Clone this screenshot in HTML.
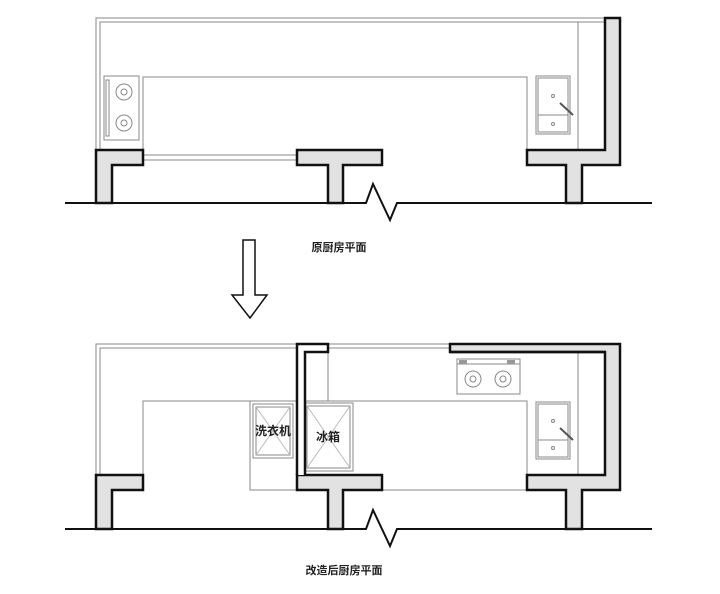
<!DOCTYPE html>
<html><head><meta charset="utf-8"><style>
html,body{margin:0;padding:0;background:#fff;}
svg{display:block}
text{font-family:"Liberation Sans","Noto Sans CJK SC",sans-serif;font-weight:bold;fill:#222}
</style></head><body>
<svg width="720" height="594" viewBox="0 0 720 594" xmlns="http://www.w3.org/2000/svg">
<g fill="none" stroke="#888" stroke-width="1">
<path d="M96 150 V18 H605 M100 150 V22 H605"/>
<path d="M143 150 V77 H527 V150"/>
<path d="M578 22 V150"/>
<rect x="104" y="76" width="35" height="64"/>
<rect x="106" y="80" width="3" height="56"/>
<circle cx="124" cy="92" r="8"/><circle cx="124" cy="92" r="3"/>
<circle cx="124" cy="123" r="8"/><circle cx="124" cy="123" r="3"/>
<path d="M143 155 H297 M143 160 H297"/>
<rect x="536" y="76" width="34" height="58"/>
<rect x="538" y="78" width="30" height="54"/>
<path d="M538 115 H568"/>
<circle cx="553" cy="96" r="1.5"/><circle cx="553" cy="124" r="1.5"/>
<path d="M560 103 L573 115" stroke="#555" stroke-width="2"/>
</g>
<g fill="#e2e2e2" stroke="#111" stroke-width="2.5">
<path d="M96 150 H143 V165 H112 V203 H96 Z"/>
<path d="M297 150 H382 V165 H343 V203 H328 V165 H297 Z"/>
<path d="M605 18 H620 V165 H582 V203 H566 V165 H527 V150 H605 Z"/>
</g>
<path d="M65 203 H366 L373 184 L390 220 L397 203 H652" fill="none" stroke="#111" stroke-width="2"/>
<text x="339" y="251" font-size="11" text-anchor="middle">原厨房平面</text>
<path d="M243 240 H255 V295 H267 L250 318 L232 295 H243 Z" fill="#fff" stroke="#111" stroke-width="1.5"/>

<g fill="none" stroke="#888" stroke-width="1">
<path d="M96 475 V344 H297 M100 475 V348 H297"/>
<path d="M328 344 H450 M328 348 H450"/>
<path d="M143 475 V401 H297 M305 401 H527 V490 H382 M297 490 H250 V401"/>
<path d="M328 352 V401"/>
<path d="M578 352 V475"/>
<rect x="253" y="404" width="40" height="54"/>
<rect x="256" y="407" width="34" height="48"/>
<path d="M256 407 L290 455 M290 407 L256 455" stroke="#bbb"/>
<rect x="304" y="403" width="49" height="68"/>
<rect x="307" y="406" width="43" height="62"/>
<path d="M307 406 L350 468 M350 406 L307 468" stroke="#bbb"/>
<rect x="457" y="359" width="63" height="35"/>
<path d="M457 364 H520"/>
<circle cx="473" cy="379" r="8"/><circle cx="473" cy="379" r="3"/>
<circle cx="503" cy="379" r="8"/><circle cx="503" cy="379" r="3"/>
<rect x="536" y="402" width="34" height="57"/>
<rect x="538" y="404" width="30" height="53"/>
<path d="M538 440 H568"/>
<circle cx="553" cy="421" r="1.5"/><circle cx="553" cy="448" r="1.5"/>
<path d="M560 428 L573 440" stroke="#555" stroke-width="2"/>
</g>
<rect x="459" y="360" width="8" height="4" fill="#999"/><rect x="507" y="360" width="8" height="4" fill="#999"/>
<g fill="#e2e2e2" stroke="#111" stroke-width="2.5">
<path d="M96 475 H143 V490 H112 V529 H96 Z"/>
<path d="M297 475 H382 V490 H343 V529 H328 V490 H297 Z"/>
<path d="M297 475 V344 H328 V352 H305 V475" fill="#fff"/>
<path d="M450 344 H620 V490 H582 V529 H566 V490 H527 V475 H605 V352 H450 Z"/>
</g>
<path d="M450 352 H605" stroke="#111" stroke-width="2.5"/>
<path d="M65 529 H366 L373 510 L390 546 L397 529 H652" fill="none" stroke="#111" stroke-width="2"/>
<text x="273" y="435" font-size="12" text-anchor="middle">洗衣机</text>
<text x="328" y="441" font-size="12" text-anchor="middle">冰箱</text>
<text x="344" y="574" font-size="11" text-anchor="middle">改造后厨房平面</text>
</svg>
</body></html>
